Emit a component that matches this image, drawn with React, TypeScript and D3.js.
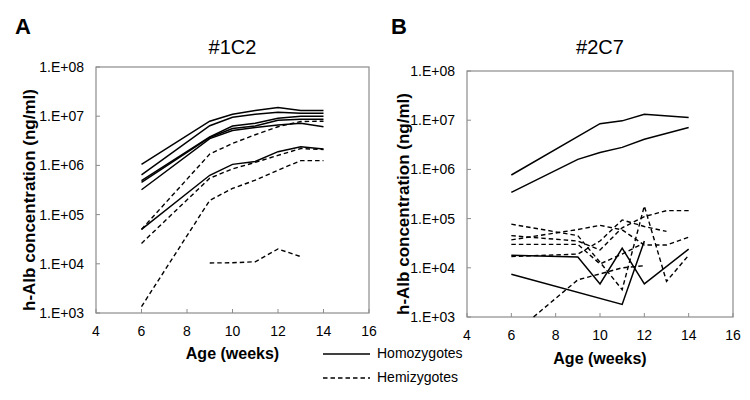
import * as d3 from "d3";

// weeks at which h-Alb was measured
const weeksA = [6, 9, 10, 11, 12, 13, 14];
const weeksB = [6, 7, 9, 10, 11, 12, 13, 14];

// #1C2 homozygotes (ng/ml)
const homoA1 = [1.05e6, 7.9e6, 1.1e7, 1.3e7, 1.5e7, 1.3e7, 1.3e7];
const homoA2 = [6.4e5, 6.4e6, 9.5e6, 1.1e7, 1.2e7, 1.15e7, 1.15e7];
const homoA3 = [4.9e5, 3.8e6, 6.3e6, 7.2e6, 9.1e6, 1.0e7, 1.0e7];
const homoA4 = [4.5e5, 3.7e6, 5.6e6, 6.3e6, 8.3e6, 8.7e6, 8.7e6];
const homoA5 = [3.2e5, 3.5e6, 5.1e6, 5.9e6, 6.6e6, 7.2e6, 6.1e6];
const homoA6 = [5.0e4, 6.3e5, 1.05e6, 1.2e6, 1.9e6, 2.4e6, 2.15e6];

// #1C2 hemizygotes
const hemiA1 = [5.0e4, 1.7e6, 2.8e6, 4.2e6, 6.1e6, 7.8e6, 7.9e6];
const hemiA2 = [2.6e4, 5.5e5, 8.5e5, 1.15e6, 1.6e6, 2.2e6, 2.1e6];
const hemiA3 = [1.35e3, 1.95e5, 3.4e5, 5.0e5, 8.0e5, 1.25e6, 1.25e6];
const hemiA4 = [null, 1.04e4, 1.05e4, 1.1e4, 2.0e4, 1.4e4, null];

// #2C7 homozygotes
const homoB1 = [7.7e5, null, null, 8.5e6, 9.7e6, 1.32e7, null, 1.13e7];
const homoB2 = [3.4e5, null, 1.6e6, 2.2e6, 2.8e6, 4.1e6, null, 7.1e6];
const homoB3 = [1.8e4, null, 1.65e4, 4.7e3, 2.5e4, 4.7e3, null, 2.4e4];
const homoB4 = [7.4e3, null, null, null, 1.8e3, 3.5e4, null, null];

// #2C7 hemizygotes
const hemiB1 = [7.7e4, null, 4.5e4, 1.3e4, 3.6e3, 1.8e5, 5.3e3, 1.8e4];
const hemiB2 = [4.5e4, null, 3.5e4, 2.3e4, 6.5e4, 1.1e5, 1.45e5, 1.45e5];
const hemiB3 = [3.7e4, null, 6.0e4, 7.3e4, 5.9e4, 2.9e4, 2.9e4, 4.2e4];
const hemiB4 = [1.7e4, null, 1.9e4, 3.5e4, 9.4e4, 6.9e4, 5.5e4, null];
const hemiB5 = [3.0e4, null, 3.0e4, 1.2e4, 1.9e4, 3.2e4, null, null];
const hemiB6 = [null, 1.0e3, 5.7e3, 7.5e3, 1.0e4, 1.1e4, null, null];

const xTicks = [4, 6, 8, 10, 12, 14, 16];
const yTicks = [1e3, 1e4, 1e5, 1e6, 1e7, 1e8];

const font = "'Liberation Sans', Arial, sans-serif";
const dash = "4.5,3";

const fmt = (v: number) => "1.E+" + String(Math.round(Math.log10(v))).padStart(2, "0");

function Panel({ left, right, top, bottom, letter, letterX, title, weeks, homo, hemi, ylabelX, xlabelY }: any) {
    const x = d3.scaleLinear().domain([4, 16]).range([left, right]);
    const y = d3.scaleLog().domain([1e3, 1e8]).range([bottom, top]);

    const path = (vals: (number | null)[]) => {
        const pts = weeks.map((w: number, i: number) => [w, vals[i]]).filter((p: any) => p[1] != null);
        return d3.line<any>().x((p) => x(p[0])).y((p) => y(p[1]))(pts) || "";
    };

    return (
        <g>
            <text x={letterX} y={34} fontSize={22} fontWeight="bold" fontFamily={font}>{letter}</text>
            <text x={(left + right) / 2} y={54} fontSize={20} textAnchor="middle" fontFamily={font}>{title}</text>

            {/* plot area frame */}
            <rect x={left} y={top} width={right - left} height={bottom - top} fill="none" stroke="#8c8c8c" strokeWidth={1.2} />

            {xTicks.map((t) => (
                <g key={"x" + t}>
                    <line x1={x(t)} x2={x(t)} y1={bottom} y2={bottom - 4} stroke="#8c8c8c" />
                    <text x={x(t)} y={bottom + 23} fontSize={14} textAnchor="middle" fontFamily={font}>{t}</text>
                </g>
            ))}
            {yTicks.map((t) => (
                <g key={"y" + t}>
                    <line x1={left} x2={left + 4} y1={y(t)} y2={y(t)} stroke="#8c8c8c" />
                    <text x={left - 12} y={y(t)} fontSize={14} textAnchor="end" dominantBaseline="central" fontFamily={font}>{fmt(t)}</text>
                </g>
            ))}

            {homo.map((s: any, i: number) => (
                <path key={"h" + i} d={path(s)} fill="none" stroke="#000" strokeWidth={1.5} />
            ))}
            {hemi.map((s: any, i: number) => (
                <path key={"e" + i} d={path(s)} fill="none" stroke="#000" strokeWidth={1.4} strokeDasharray={dash} />
            ))}

            <text x={(left + right) / 2} y={xlabelY} fontSize={16} fontWeight="bold" textAnchor="middle" fontFamily={font}>Age (weeks)</text>
            <text
                transform={`translate(${ylabelX},${(top + bottom) / 2 + 10}) rotate(-90)`}
                fontSize={17} fontWeight="bold" textAnchor="middle" dominantBaseline="central" fontFamily={font}
            >h-Alb concentration (ng/ml)</text>
        </g>
    );
}

export default function App() {
    return (
        <svg width={750} height={400} style={{ position: "absolute", left: 0, top: 0, background: "#fff" }}>
            <Panel
                left={96} right={369} top={67} bottom={313}
                letter="A" letterX={15} title="#1C2"
                weeks={weeksA}
                homo={[homoA1, homoA2, homoA3, homoA4, homoA5, homoA6]}
                hemi={[hemiA1, hemiA2, hemiA3, hemiA4]}
                ylabelX={29} xlabelY={359}
            />
            <Panel
                left={467} right={733} top={71} bottom={317}
                letter="B" letterX={391} title="#2C7"
                weeks={weeksB}
                homo={[homoB1, homoB2, homoB3, homoB4]}
                hemi={[hemiB1, hemiB2, hemiB3, hemiB4, hemiB5, hemiB6]}
                ylabelX={403} xlabelY={364}
            />

            {/* legend */}
            <line x1={323} x2={370} y1={354} y2={354} stroke="#000" strokeWidth={1.3} />
            <text x={377} y={358} fontSize={14} fontFamily={font}>Homozygotes</text>
            <line x1={323} x2={370} y1={378} y2={378} stroke="#000" strokeWidth={1.3} strokeDasharray={dash} />
            <text x={377} y={382} fontSize={14} fontFamily={font}>Hemizygotes</text>
        </svg>
    );
}
